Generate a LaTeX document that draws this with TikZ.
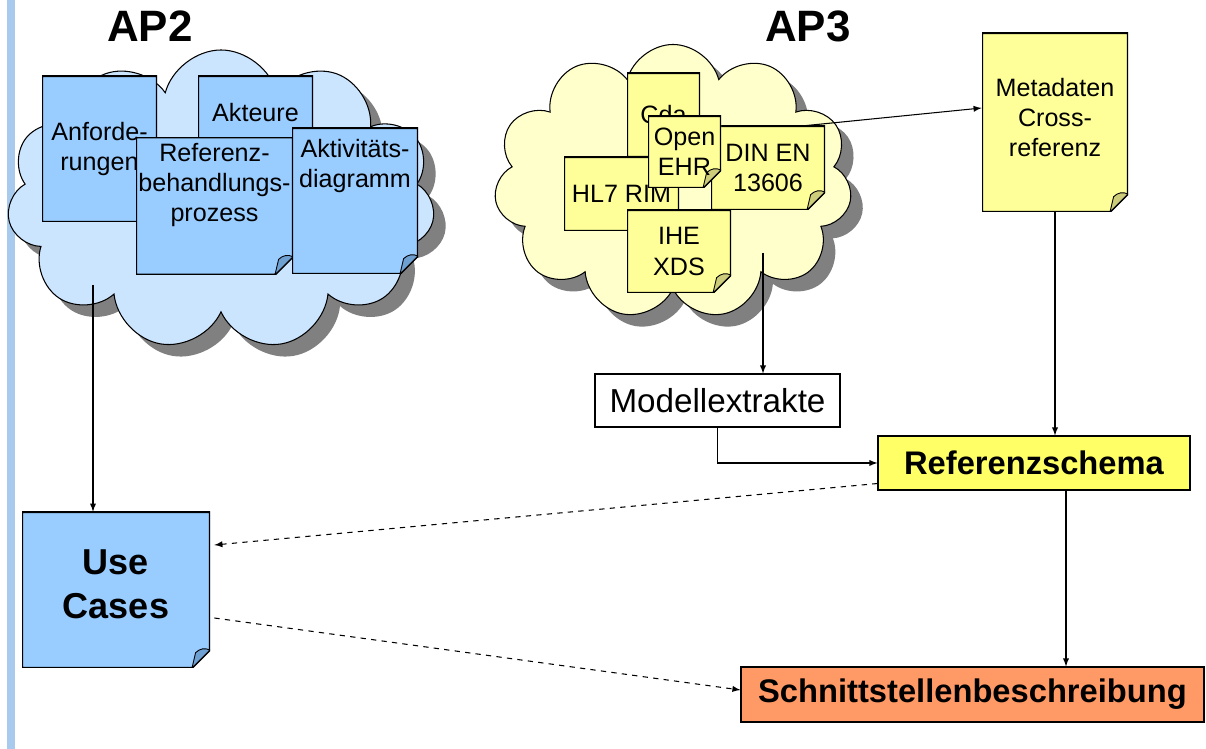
\documentclass[tikz,border=0pt]{standalone}
\usepackage{fontspec}
\setmainfont{Liberation Sans}
\usepackage{tikz}
\usetikzlibrary{shapes.symbols,shadows,arrows}

\definecolor{barblue}{RGB}{168,202,236}
\definecolor{cloudblue}{RGB}{204,229,255}
\definecolor{docblue}{RGB}{153,204,255}
\definecolor{foldblue}{RGB}{110,160,210}
\definecolor{cloudyellow}{RGB}{255,255,204}
\definecolor{docyellow}{RGB}{255,255,153}
\definecolor{foldyellow}{RGB}{204,204,122}
\definecolor{schemayellow}{RGB}{255,255,102}
\definecolor{outorange}{RGB}{255,153,102}
\definecolor{shadowgray}{RGB}{128,128,128}

\newcommand{\falz}{0.36cm}
\newcommand{\lift}[1]{\rule[-#1]{0pt}{#1}}

\tikzset{
	wolke/.style={cloud, cloud puffs=11, cloud ignores aspect, draw, line width=0.6pt,
		drop shadow={shadow xshift=0.24cm, shadow yshift=-0.24cm, fill=shadowgray, opacity=1}},
	doc/.style 2 args={rectangle, inner xsep=1pt, align=center,
		font=\fontsize{14.3}{17.2}\selectfont,
		path picture={
			\draw[fill=#1, line width=1.2pt] (path picture bounding box.north west)
				-- (path picture bounding box.north east)
				-- ([yshift=\falz]path picture bounding box.south east)
				-- ([xshift=-\falz]path picture bounding box.south east)
				-- (path picture bounding box.south west) -- cycle;
			\draw[fill=#2, line width=0.5pt] ([xshift=-\falz]path picture bounding box.south east)
				-- ([xshift=-0.8*\falz, yshift=0.85*\falz]path picture bounding box.south east)
				to[bend left=35] ([yshift=\falz]path picture bounding box.south east) -- cycle;}},
	bluedoc/.style={doc={docblue}{foldblue}},
	yellowdoc/.style={doc={docyellow}{foldyellow}},
	box/.style={rectangle, draw, line width=0.6pt},
	fett/.style={font=\fontsize{18.6}{22.3}\selectfont\bfseries},
	titel/.style={font=\fontsize{25}{30}\selectfont\bfseries},
	pfeil/.style={-latex, line width=0.6pt},
	strich/.style={-latex, dashed, line width=0.6pt}
}

\begin{document}
\begin{tikzpicture}
	\useasboundingbox (0,0) rectangle (24.12,14.98);
	\fill[barblue] (0.14,0) rectangle (0.30,14.98);

	% AP2: Anwendungsfaelle
	\node[titel] (ap2) at (3.0,14.46) {AP2};
	\node[wolke, fill=cloudblue, minimum width=8.56cm, minimum height=6.0cm] (wolke2) at (4.42,10.98) {};
	\node[bluedoc, minimum width=2.3cm, minimum height=2.92cm] (anf) at (1.99,12.0) {Anforde-\\rungen};
	\node[bluedoc, minimum width=2.3cm, minimum height=1.48cm] (akt) at (5.11,12.72) {Akteure};
	\node[bluedoc, minimum width=3.14cm, minimum height=2.72cm] (refproz) at (4.29,10.86) {Referenz-\\behandlungs-\\prozess\lift{0.94cm}};
	\node[bluedoc, minimum width=2.52cm, minimum height=2.92cm] (aktdiag) at (7.10,10.96) {Aktivit\"ats-\\diagramm\lift{1.5cm}};

	% AP3: Standards
	\node[titel] (ap3) at (16.16,14.46) {AP3};
	\node[wolke, fill=cloudyellow, minimum width=7.16cm, minimum height=5.5cm] (wolke3) at (13.46,11.34) {};
	\node[yellowdoc, minimum width=1.46cm, minimum height=1.68cm] (cda) at (13.27,12.68) {Cda};
	\node[yellowdoc, minimum width=2.3cm, minimum height=1.48cm] (hl7) at (12.43,11.1) {HL7 RIM};
	\node[yellowdoc, minimum width=2.28cm, minimum height=1.68cm] (din) at (15.36,11.62) {DIN EN\\13606};
	\node[yellowdoc, minimum width=1.46cm, minimum height=1.44cm] (ehr) at (13.69,11.94) {Open\\EHR};
	\node[yellowdoc, minimum width=2.08cm, minimum height=1.66cm] (ihe) at (13.58,9.95) {IHE\\XDS};

	\node[yellowdoc, minimum width=2.92cm, minimum height=3.58cm] (meta) at (21.1,12.53) {Metadaten\\Cross-\\referenz\lift{0.2cm}};
	\node[box, fill=white, font=\fontsize{18.9}{22.7}\selectfont, minimum width=4.9cm, minimum height=1.06cm] (modell) at (14.35,6.97) {Modellextrakte};
	\node[box, fett, fill=schemayellow, minimum width=6.24cm, minimum height=1.08cm] (schema) at (20.68,5.72) {Referenzschema};
	\node[bluedoc, font=\fontsize{20.5}{24.6}\selectfont\bfseries, minimum width=3.76cm, minimum height=3.12cm] (uc) at (2.32,3.18) {Use\\Cases\lift{0.24cm}};
	\node[box, fett, fill=outorange, minimum width=9.26cm, minimum height=1.1cm] (schnitt) at (19.45,1.09) {Schnittstellenbeschreibung};

	% Verbindungen
	\coordinate (ap2out) at (1.86,9.28);
	\coordinate (ap3out) at (15.26,9.92);
	\draw[pfeil] (ap2out) -- (uc.north -| ap2out);
	\draw[pfeil] (ap3out) -- (modell.north -| ap3out);
	\draw[pfeil] ([xshift=-0.4cm]din.north east) -- ([yshift=0.29cm]meta.west);
	\draw[pfeil] (modell.south) |- (schema.west);
	\draw[pfeil] (meta.south) -- (meta.south |- schema.north);
	\draw[pfeil] ([xshift=0.64cm]schema.south) -- ([xshift=0.64cm]schema.south |- schnitt.north);
	\draw[strich] ([yshift=0.14cm]schema.south west) -- ([xshift=0.08cm, yshift=0.9cm]uc.east);
	\draw[strich] ([xshift=0.08cm, yshift=-0.56cm]uc.east) -- ([yshift=0.09cm]schnitt.west);
\end{tikzpicture}
\end{document}
